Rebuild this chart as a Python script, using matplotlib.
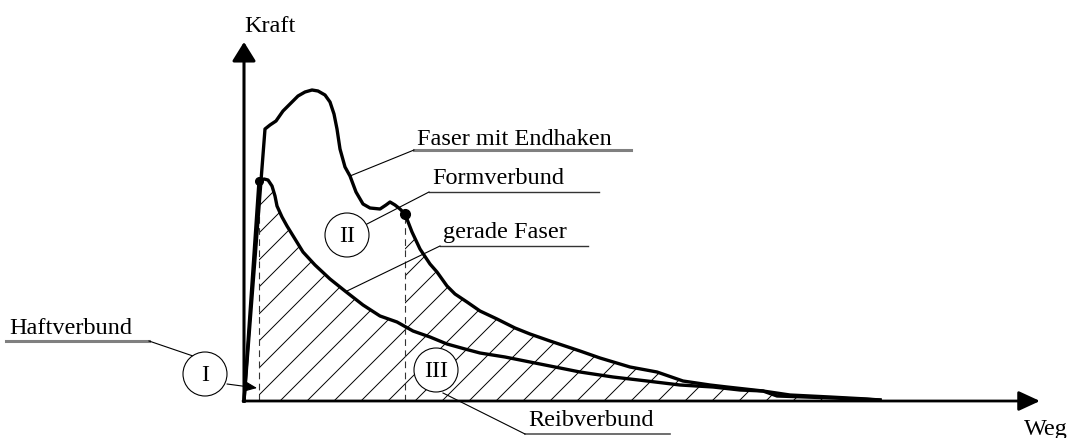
import numpy as np
import matplotlib
matplotlib.use("Agg")
import matplotlib.pyplot as plt
from matplotlib.patches import Circle, Polygon
from matplotlib.collections import LineCollection

# curve data (Weg / Kraft, arbitrary units, origin at the axes corner)
hook_weg = [0, 21, 26, 32, 39, 46, 54, 61, 68, 74, 81, 86, 90, 93, 96, 101, 106, 112, 119, 126,
            136, 142, 146, 151, 156, 161, 168, 176, 186, 193, 203, 211, 223, 236, 253, 271, 286,
            306, 336, 356, 386, 413, 439, 466, 483, 519, 533, 589, 636]
hook_kraft = [0, 272, 276, 280, 290, 297, 305, 309, 311, 310, 306, 299, 287, 272, 252, 234, 225,
              209, 197, 193, 192, 196, 199, 196, 192, 187, 169, 152, 137, 129, 115, 107, 99, 90,
              82, 73, 67, 60, 50, 43, 34, 29, 20, 16, 14, 10, 5, 3, 1]

straight_weg = [0, 15, 20, 24, 28, 31, 33, 38, 43, 51, 59, 71, 86, 101, 119, 136, 153, 169, 186,
                203, 221, 236, 261, 286, 311, 336, 369, 403, 436, 469, 496, 519, 546, 586, 623, 636]
straight_kraft = [0, 220, 222, 221, 215, 205, 195, 184, 175, 162, 149, 136, 122, 110, 96, 85, 79,
                  70, 64, 57, 52, 48, 44, 39, 34, 29, 24, 20, 16, 14, 11, 10, 6, 4, 2, 1]

# points where the bond mechanisms change
p_haft = (15, 220)
p_form = (161, 187)

fs = 17.5
plt.rcParams["font.family"] = ["Liberation Serif", "DejaVu Serif"]

fig = plt.figure(figsize=(10.68, 4.39), dpi=100)
ax = fig.add_axes([0, 0, 1, 1])
ax.set_xlim(-244, 824)
ax.set_ylim(-37, 402)
ax.axis("off")

# hatched area: below straight fibre up to p_form, then below hooked fibre
sw = np.array(straight_weg, float)
sk = np.array(straight_kraft, float)
hw = np.array(hook_weg, float)
hk = np.array(hook_kraft, float)
m1 = (sw > p_haft[0]) & (sw < p_form[0])
m2 = hw > p_form[0]
top = [(p_haft[0], p_haft[1])] + list(zip(sw[m1], sk[m1])) + \
      [(p_form[0], np.interp(p_form[0], sw, sk)), p_form] + list(zip(hw[m2], hk[m2]))
poly = top + [(hw[-1], 0), (p_haft[0], 0)]
clip = Polygon(poly, closed=True, facecolor="none", edgecolor="none")
ax.add_patch(clip)
segs = []
for c in np.arange(36 - 27 * 10, 700, 27):
    segs.append([(c, 0), (c + 500, 500)])
hatch = LineCollection(segs, colors="black", linewidths=0.7)
ax.add_collection(hatch)
hatch.set_clip_path(clip)

# dashed borders
ax.plot([p_haft[0], p_haft[0]], [0, p_haft[1]], color="#333333", lw=0.8, ls=(0, (6, 4)))
ax.plot([p_form[0], p_form[0]], [0, p_form[1]], color="#333333", lw=0.8, ls=(0, (6, 4)))

# axes
ax.annotate("", xy=(0, 359), xytext=(0, 0),
            arrowprops=dict(arrowstyle="-|>,head_length=0.58,head_width=0.36",
                            mutation_scale=20, lw=2.2, color="black", shrinkA=0, shrinkB=0))
ax.annotate("", xy=(796, 0), xytext=(-1, 0),
            arrowprops=dict(arrowstyle="-|>,head_length=0.65,head_width=0.3",
                            mutation_scale=20, lw=2.0, color="black", shrinkA=0, shrinkB=0))

# curves
ax.plot(hook_weg, hook_kraft, color="black", lw=2.4, solid_joinstyle="round")
ax.plot(straight_weg, straight_kraft, color="black", lw=2.4, solid_joinstyle="round")
ax.plot(*p_haft, "o", color="black", ms=5.5)
ax.plot(*p_form, "o", color="black", ms=7)

# circles
for (cx, cy), lab in [((-39, 27), "I"), ((103, 166), "II"), ((192, 31), "III")]:
    ax.add_patch(Circle((cx, cy), 22, facecolor="white", edgecolor="black", lw=0.8, zorder=3))
    ax.text(cx, cy - 1, lab, ha="center", va="center", fontsize=fs, zorder=4)

ax.annotate("", xy=(13, 13), xytext=(-17, 17),
            arrowprops=dict(arrowstyle="-|>,head_length=0.7,head_width=0.3",
                            mutation_scale=10, lw=0.8, color="black", shrinkA=0, shrinkB=0))

# labels with underline and leader (leader starts at left or right end of underline)
labels = [
    ("Haftverbund", -235, 68, 60, -95, (-51, 45), "#808080", 2.2, "right"),
    ("Faser mit Endhaken", 173, 257, 251, 387, (106, 225), "#808080", 2.2, "left"),
    ("Formverbund", 188, 218, 209, 355, (123, 177), "#333333", 1.0, "left"),
    ("gerade Faser", 199, 164, 155, 344, (103, 110), "#333333", 1.0, "left"),
    ("Reibverbund", 284, -24, -33, 426, (199, 8), "#555555", 1.2, "left"),
]
for txt, x, yb, yu, xend, tip, ucol, ulw, side in labels:
    ax.text(x, yb, txt, fontsize=fs, ha="left", va="baseline")
    ax.plot([x - 3, xend], [yu, yu], color=ucol, lw=ulw)
    x0 = xend if side == "right" else x - 3
    ax.plot([x0, tip[0]], [yu, tip[1]], color="black", lw=0.8)

ax.text(0, 370, "Kraft", fontsize=fs, ha="left", va="baseline")
ax.text(824, -33, "Weg", fontsize=fs, ha="right", va="baseline")

fig.savefig("out.png", dpi=100)
